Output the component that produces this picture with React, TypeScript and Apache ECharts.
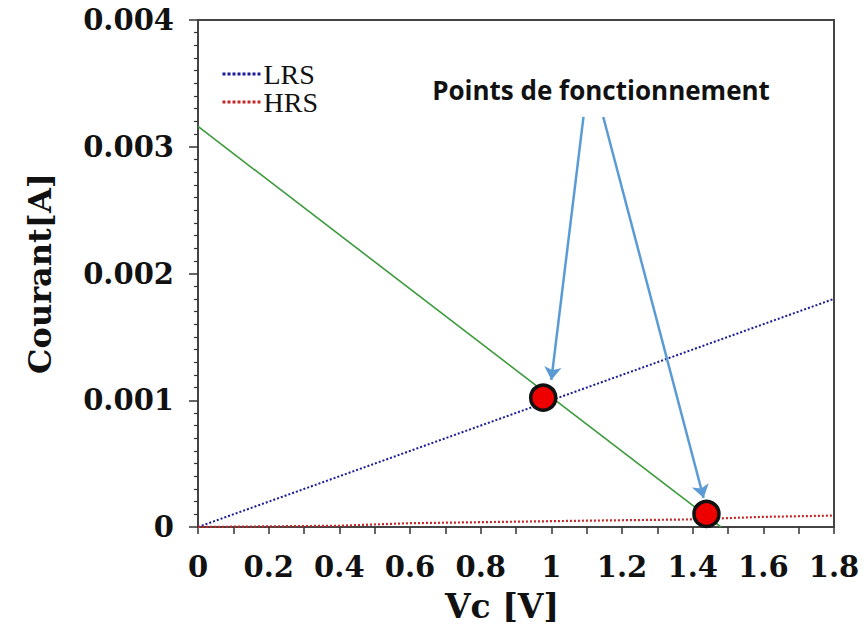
import React, { useEffect, useRef } from "react";
import * as echarts from "echarts";

// Axis tick labels
const xTickLabels = ["0", "0.2", "0.4", "0.6", "0.8", "1", "1.2", "1.4", "1.6", "1.8"];
const yTickLabels = ["0", "0.001", "0.002", "0.003", "0.004"];

// LRS characteristic (blue dotted)
const lrsV = [0, 1.8];
const lrsI = [0, 0.0018];

// HRS characteristic (red dotted)
const hrsV = [0, 0.4, 0.6, 1.1, 1.4, 1.6, 1.8];
const hrsI = [0, 0.00001, 0.00003, 0.00005, 0.00006, 0.00008, 0.00009];

// Load line (green)
const loadV = [0, 1.48];
const loadI = [0.00316, 0];

// Operating points
const opV = [0.977, 1.439];
const opI = [0.00102, 0.000103];

// Annotation arrows: start and end (data coordinates)
const arrowStartV = [1.091, 1.147];
const arrowStartI = [0.003235, 0.003235];
const arrowEndV = [1.0, 1.431];
const arrowEndI = [0.00116, 0.000229];

const annotationText = "Points de fonctionnement";

export default function App() {
  const ref = useRef<HTMLDivElement>(null);
  useEffect(() => {
    if (!ref.current) return;
    const chart = echarts.init(ref.current, null, { renderer: "svg" });
    const serif = "DejaVu Serif";
    const tickFont = { fontFamily: serif, fontWeight: "bold" as const, fontSize: 29, color: "#111" };
    chart.setOption({
      animation: false,
      backgroundColor: "#fff",
      grid: {
        left: 198,
        top: 20,
        right: 32,
        bottom: 109,
        show: true,
        borderColor: "#444",
        borderWidth: 2,
      },
      legend: {
        data: [
          { name: "LRS", itemStyle: { opacity: 0 } },
          { name: "HRS", itemStyle: { opacity: 0 } },
        ],
        orient: "vertical",
        left: 216,
        top: 55,
        itemWidth: 40,
        itemHeight: 14,
        itemGap: 0,
        lineStyle: { width: 3, type: [3, 2] },
        textStyle: { fontFamily: "Liberation Serif", fontSize: 28, color: "#111", padding: [0, 0, 0, -4] },
        selectedMode: false,
      },
      xAxis: {
        type: "value",
        min: 0,
        max: 1.8,
        interval: 0.2,
        name: "Vc [V]",
        nameLocation: "middle",
        nameGap: 63,
        nameTextStyle: { fontFamily: serif, fontWeight: "bold", fontSize: 33, color: "#111", padding: [0, 28, 0, 0] },
        axisLine: { lineStyle: { color: "#444", width: 2 } },
        axisTick: { show: true, length: 7, lineStyle: { color: "#333", width: 1.5 } },
        minorTick: { show: true, splitNumber: 2, length: 7, lineStyle: { color: "#333", width: 1.5 } },
        splitLine: { show: false },
        axisLabel: {
          ...tickFont,
          margin: 25,
          formatter: (v: number) => xTickLabels[Math.round(v / 0.2)] ?? "",
        },
      },
      yAxis: {
        type: "value",
        min: 0,
        max: 0.004,
        interval: 0.001,
        name: "Courant[A]",
        nameLocation: "middle",
        nameGap: 142,
        nameTextStyle: { fontFamily: serif, fontWeight: "bold", fontSize: 32, color: "#111" },
        axisLine: { lineStyle: { color: "#444", width: 2 } },
        axisTick: { show: true, length: 9, lineStyle: { color: "#333", width: 1.5 } },
        minorTick: { show: true, splitNumber: 10, length: 4, lineStyle: { color: "#333", width: 1.2 } },
        splitLine: { show: false },
        axisLabel: {
          ...tickFont,
          margin: 24,
          formatter: (v: number) => yTickLabels[Math.round(v / 0.001)] ?? "",
        },
      },
      series: [
        {
          name: "Load",
          type: "line",
          data: loadV.map((v, i) => [v, loadI[i]]),
          symbol: "none",
          lineStyle: { color: "#3c9a3c", width: 1.6 },
          z: 3,
          silent: true,
        },
        {
          name: "LRS",
          type: "line",
          data: lrsV.map((v, i) => [v, lrsI[i]]),
          symbol: "none",
          color: "#1a1a9a",
          lineStyle: { color: "#1a1a9a", width: 2, type: [2, 2] },
          z: 4,
          silent: true,
        },
        {
          name: "HRS",
          type: "line",
          data: hrsV.map((v, i) => [v, hrsI[i]]),
          symbol: "none",
          color: "#c02828",
          lineStyle: { color: "#c02828", width: 2.2, type: [2, 2] },
          z: 4,
          silent: true,
        },
        {
          name: "Points",
          type: "scatter",
          data: opV.map((v, i) => [v, opI[i]]),
          symbol: "circle",
          symbolSize: 25,
          itemStyle: { color: "#ee0000", borderColor: "#111", borderWidth: 3.5, opacity: 1 },
          z: 6,
          silent: true,
          markLine: {
            silent: true,
            symbol: ["none", "arrow"],
            symbolSize: 13,
            label: { show: false },
            lineStyle: { color: "#5b9bd5", width: 2.5, type: "solid" },
            emphasis: { disabled: true },
            data: arrowStartV.map((v, i) => [
              { coord: [v, arrowStartI[i]] },
              { coord: [arrowEndV[i], arrowEndI[i]] },
            ]),
          },
        },
      ],
      graphic: [
        {
          type: "text",
          x: 601,
          y: 90,
          style: {
            text: annotationText,
            fontFamily: "Open Sans",
            fontWeight: "bold",
            fontSize: 26,
            fill: "#111",
            align: "center",
            verticalAlign: "middle",
          },
        },
      ],
    });
    return () => chart.dispose();
  }, []);
  return (
    <div
      ref={ref}
      style={{ position: "fixed", left: 0, top: 0, width: 866, height: 636 }}
    />
  );
}
